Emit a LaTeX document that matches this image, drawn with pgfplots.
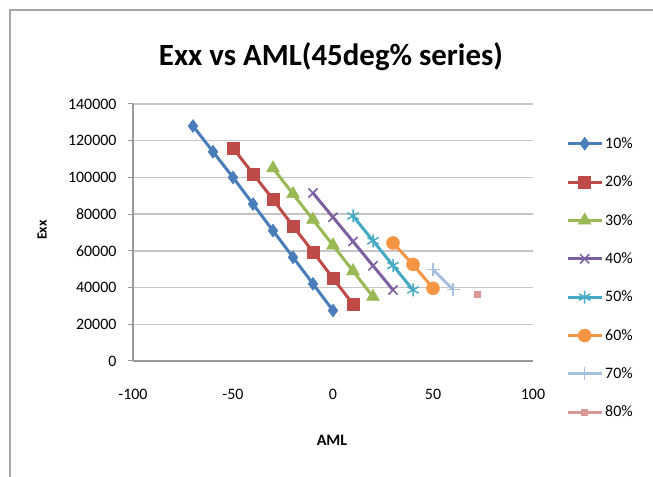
\documentclass[border=0pt]{standalone}
\usepackage{pgfplots}
\pgfplotsset{compat=1.18}
\usepackage{fontspec}
\setmainfont{Carlito}
\definecolor{c1}{HTML}{4A7EBB}
\definecolor{c2}{HTML}{BE4B48}
\definecolor{c3}{HTML}{98B954}
\definecolor{c4}{HTML}{7D60A0}
\definecolor{c5}{HTML}{46AAC5}
\definecolor{c6}{HTML}{F69544}
\definecolor{c7}{HTML}{A7C0DE}
\definecolor{c8}{HTML}{D99795}
\begin{document}
\begin{tikzpicture}
\useasboundingbox (0,0) rectangle (653bp,477bp);
\draw[line width=2.5bp, color=gray!70] (10bp,-5bp) -- (10bp,467bp) -- (660bp,467bp);
\node[font=\bfseries\fontsize{31}{34}\selectfont] at (331bp,420bp) {Exx vs AML(45deg\% series)};
\node[font=\bfseries\fontsize{14}{16}\selectfont, rotate=90] at (42bp,247bp) {Exx};
\node[font=\bfseries\fontsize{16}{18}\selectfont] at (332bp,37bp) {AML};
\begin{axis}[
  at={(133bp,116bp)}, anchor=south west,
  scale only axis, width=400bp, height=257bp,
  xmin=-100, xmax=100, ymin=0, ymax=140000,
  xtick={-100,-50,0,50,100},
  ytick={0,20000,40000,60000,80000,100000,120000,140000},
  scaled y ticks=false,
  /pgf/number format/assume math mode=true,
  yticklabel style={/pgf/number format/fixed, /pgf/number format/1000 sep={}},
  tick label style={font=\fontsize{16}{18}\selectfont},
  axis x line*=bottom, axis y line*=left,
  axis line style={gray!80, line width=1.5bp},
  ymajorgrids, grid style={gray!45, line width=1.5bp},
  xtick style={draw=none},
  ytick style={draw=gray!80, line width=1bp},
  tick align=outside, major tick length=5bp,
  xticklabel style={yshift=-20bp},
  yticklabel style={xshift=-8bp},
  legend style={at={(1.075,0.323)}, anchor=west, draw=none, fill=none,
    font=\fontsize{16}{18}\selectfont, row sep=22bp,
    /tikz/every even column/.append style={column sep=0bp}},
  legend cell align=left,
  legend image code/.code={\draw[mark repeat=2,mark phase=2,#1] plot coordinates {(0bp,0bp) (17bp,0bp) (34bp,0bp)};},
  every axis plot/.append style={line width=3bp},
  clip=false,
]
\addplot[c1, mark=diamond*, mark size=6.5bp, mark options={solid, line width=0.5bp}] coordinates {
(-70,128000) (-60,114000) (-50,100000) (-40,85500) (-30,71000) (-20,56500) (-10,42000) (0,27500)};
\addlegendentry{10\%}
\addplot[c2, mark=square*, mark size=6bp, mark options={solid, line width=0.5bp}] coordinates {
(-50,116000) (-40,102000) (-30,88000) (-20,73500) (-10,59500) (0,45000) (10,31000)};
\addlegendentry{20\%}
\addplot[c3, mark=triangle*, mark size=7.5bp, mark options={solid, line width=0.5bp}] coordinates {
(-30,105000) (-20,91000) (-10,77000) (0,63000) (10,49000) (20,35000)};
\addlegendentry{30\%}
\addplot[c4, mark=x, mark size=6.5bp, mark options={solid, line width=1.5bp}] coordinates {
(-10,91500) (0,78300) (10,65100) (20,51900) (30,38700)};
\addlegendentry{40\%}
\addplot[c5, mark=asterisk, mark size=6.5bp, mark options={solid, line width=1.5bp}] coordinates {
(10,79000) (20,65500) (30,52000) (40,38700)};
\addlegendentry{50\%}
\addplot[c6, mark=*, mark size=6.5bp, mark options={solid, line width=0.5bp}] coordinates {
(30,64300) (40,52600) (50,39600)};
\addlegendentry{60\%}
\addplot[c7, mark=+, mark size=6.5bp, mark options={solid, line width=1.5bp}] coordinates {
(50,49900) (60,39000)};
\addlegendentry{70\%}
\addplot[c8, mark=square*, mark size=3bp, mark options={solid, line width=0.5bp}] coordinates {
(72,36300)};
\addlegendentry{80\%}
\end{axis}
\end{tikzpicture}
\end{document}
